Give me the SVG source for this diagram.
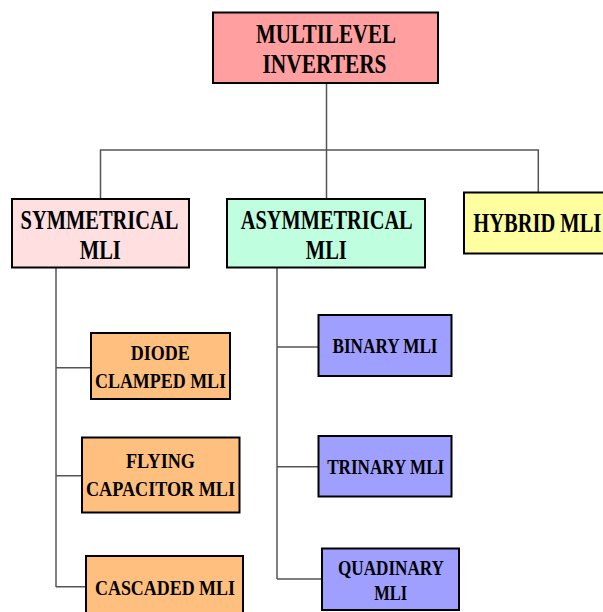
<svg xmlns="http://www.w3.org/2000/svg" width="603" height="612" viewBox="0 0 603 612">
<style>
.box{stroke:#000;stroke-width:2}
.t{font-family:"Liberation Serif","Times New Roman",serif;font-weight:bold;fill:#000;text-anchor:middle}
.l{font-size:28px}
.s{font-size:22px}
.c{fill:none;stroke:#555;stroke-width:1.5}
</style>
<rect width="603" height="612" fill="#fff"/>
<g id="connectors">
<path class="c" d="M326.5 83V199M100.5 199V150H538.3V192"/>
<path class="c" d="M56 268V587M56 367.7H91M56 475.7H82M56 586.7H86"/>
<path class="c" d="M277 268V579M277 347H318.5M277 466.7H318.5M277 579H322"/>
</g>
<g id="multilevel">
<rect class="box" x="213" y="12.5" width="225" height="70.5" fill="#FF9F9F"/>
<text class="t l" x="325.9" y="42.7" textLength="140" lengthAdjust="spacingAndGlyphs">MULTILEVEL</text>
<text class="t l" x="324.5" y="72.7" textLength="124" lengthAdjust="spacingAndGlyphs">INVERTERS</text>
</g>
<g id="symmetrical">
<rect class="box" x="12" y="199" width="177" height="68.5" fill="#FFDFE0"/>
<text class="t l" x="99.5" y="229" textLength="158" lengthAdjust="spacingAndGlyphs">SYMMETRICAL</text>
<text class="t l" x="100.3" y="259" textLength="41" lengthAdjust="spacingAndGlyphs">MLI</text>
</g>
<g id="asymmetrical">
<rect class="box" x="227" y="199" width="198" height="68.5" fill="#BFFFDF"/>
<text class="t l" x="326.7" y="229" textLength="172" lengthAdjust="spacingAndGlyphs">ASYMMETRICAL</text>
<text class="t l" x="326.3" y="259" textLength="41" lengthAdjust="spacingAndGlyphs">MLI</text>
</g>
<g id="hybrid">
<rect class="box" x="464" y="192.5" width="150" height="61" fill="#FFFF9F"/>
<text class="t l" x="473.3" y="231.7" textLength="128" lengthAdjust="spacingAndGlyphs" style="text-anchor:start">HYBRID MLI</text>
</g>
<g id="diode">
<rect class="box" x="91" y="333" width="139" height="66" fill="#FFBF7F"/>
<text class="t s" x="160.3" y="360" textLength="59" lengthAdjust="spacingAndGlyphs">DIODE</text>
<text class="t s" x="160.5" y="387.7" textLength="131" lengthAdjust="spacingAndGlyphs">CLAMPED MLI</text>
</g>
<g id="flying">
<rect class="box" x="82" y="437.5" width="157.5" height="75" fill="#FFBF7F"/>
<text class="t s" x="160.5" y="468" textLength="69" lengthAdjust="spacingAndGlyphs">FLYING</text>
<text class="t s" x="160.5" y="496" textLength="149" lengthAdjust="spacingAndGlyphs">CAPACITOR MLI</text>
</g>
<g id="cascaded">
<rect class="box" x="86" y="556" width="157" height="70" fill="#FFBF7F"/>
<text class="t s" x="165" y="595" textLength="140" lengthAdjust="spacingAndGlyphs">CASCADED MLI</text>
</g>
<g id="binary">
<rect class="box" x="318.5" y="315" width="133" height="61" fill="#9F9FFF"/>
<text class="t s" x="385" y="353.3" textLength="105" lengthAdjust="spacingAndGlyphs">BINARY MLI</text>
</g>
<g id="trinary">
<rect class="box" x="318.5" y="436" width="133" height="60.5" fill="#9F9FFF"/>
<text class="t s" x="385.7" y="474.3" textLength="117" lengthAdjust="spacingAndGlyphs">TRINARY MLI</text>
</g>
<g id="quadinary">
<rect class="box" x="322" y="548.5" width="137" height="61.5" fill="#9F9FFF"/>
<text class="t s" x="391" y="575.3" textLength="106" lengthAdjust="spacingAndGlyphs">QUADINARY</text>
<text class="t s" x="390.7" y="600" textLength="33" lengthAdjust="spacingAndGlyphs">MLI</text>
</g>
</svg>
